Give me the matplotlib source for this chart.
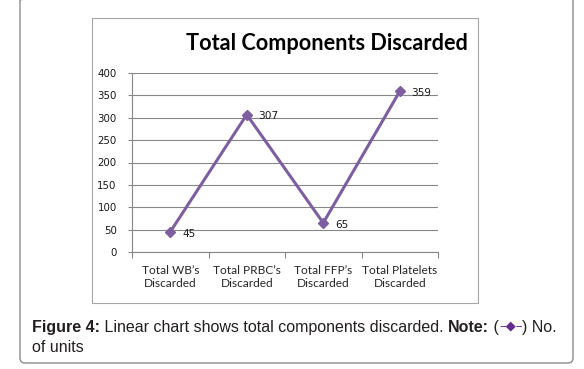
#!/usr/bin/env python3
# Total components discarded - line chart with caption box

import matplotlib
matplotlib.use('Agg')
import matplotlib.pyplot as plt
from matplotlib.patches import Rectangle, FancyBboxPatch
from matplotlib.text import Annotation
from matplotlib.transforms import IdentityTransform
import numpy as np

# data
categories = ['Total WB\u2019s\nDiscarded', 'Total PRBC\u2019s\nDiscarded',
              'Total FFP\u2019s\nDiscarded', 'Total Platelets\nDiscarded']
units = [45, 307, 65, 359]
yticks = [0, 50, 100, 150, 200, 250, 300, 350, 400]

line_col = '#7D5FA0'
grid_col = '#878787'

W, H = 584, 369
fig = plt.figure(figsize=(W / 100, H / 100), dpi=100)

# outer rounded caption box (pixel coords)
fig.patches.append(FancyBboxPatch((20, 6), 553, 368, boxstyle='round,pad=0,rounding_size=5',
                                  transform=IdentityTransform(), fill=False,
                                  edgecolor='#8c8c8c', linewidth=1.0))
# chart frame
fig.patches.append(Rectangle((92 / W, 1 - 303 / H), 386 / W, 285 / H,
                             transform=fig.transFigure, fill=False,
                             edgecolor='#a6a6a6', linewidth=0.8))

ax = fig.add_axes([132 / W, 1 - 252 / H, 306 / W, 179 / H])
x = np.arange(len(categories))
ax.plot(x, units, color=line_col, linewidth=2.2, marker='D', markersize=5.5,
        markerfacecolor=line_col, markeredgecolor=line_col)

for xi, v in zip(x, units):
    ax.annotate(str(v), (xi, v), xytext=(8.5, -1.2), textcoords='offset points',
                ha='left', va='center', fontsize=7.6, color='#1a1a1a',
                family='DejaVu Sans')

ax.set_xlim(-0.5, len(categories) - 0.5)
ax.set_ylim(0, 400)
ax.set_yticks(yticks)
ax.set_yticklabels([str(t) for t in yticks], family='DejaVu Sans', fontsize=7.4,
                   color='#1a1a1a')
ax.set_xticks(x)
ax.set_xticklabels(categories, family='Lato', fontsize=8.6, color='#262626',
                   linespacing=1.25)
ax.set_xticks(np.arange(-0.5, len(categories)), minor=True)
ax.tick_params(axis='x', which='major', length=0, pad=9)
ax.tick_params(axis='x', which='minor', length=4, color=grid_col, width=0.8)
ax.tick_params(axis='y', length=3, color=grid_col, width=0.8, pad=8)

ax.grid(axis='y', color=grid_col, linewidth=0.8)
ax.set_axisbelow(True)
for s in ['top', 'right']:
    ax.spines[s].set_visible(False)
for s in ['left', 'bottom']:
    ax.spines[s].set_color(grid_col)
    ax.spines[s].set_linewidth(0.8)

fig.text(327 / W, 1 - 43 / H, 'Total Components Discarded', ha='center', va='center',
         family='Lato', fontweight='bold', fontsize=15.6, color='black')

# caption, built piece by piece, each one anchored to the end of the previous
cap = dict(family='Liberation Sans', fontsize=11.5, color='#231f20')
t = fig.text(32 / W, 1 - 335 / H, 'Figure 4:', fontweight='bold', va='bottom', **cap)
pieces = [(' Linear chart shows total components discarded. ', 'normal', '#231f20', 0),
          ('Note:', 'bold', '#231f20', 0),
          (' (', 'normal', '#231f20', 0),
          ('\u2013\u25c6\u2013', 'normal', '#662d91', 2.2),
          (') No.', 'normal', '#231f20', -2.2)]
for txt, wt, col, dy in pieces:
    kw = dict(cap, color=col)
    if col != '#231f20':
        kw.update(family='DejaVu Sans', fontsize=9.5)
    t = fig.add_artist(Annotation(txt, xy=(1, 0), xycoords=t, xytext=(0, dy),
                                  textcoords='offset points', va='bottom', ha='left',
                                  fontweight=wt, **kw))
fig.text(32 / W, 1 - 355 / H, 'of units', va='bottom', **cap)

fig.savefig('out.png', dpi=100)
